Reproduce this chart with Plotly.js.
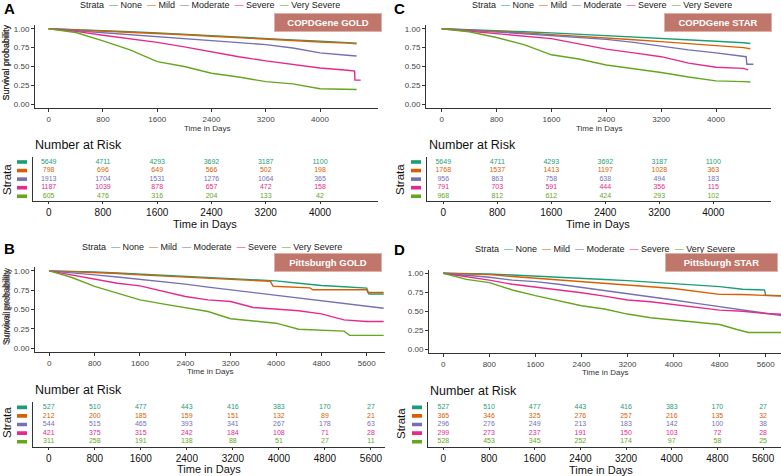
<!DOCTYPE html>
<html><head><meta charset="utf-8">
<script src="https://cdn.plot.ly/plotly-3.0.1.min.js"></script>
<style>html,body{margin:0;padding:0;background:#fff}#chart{width:781px;height:476px}</style>
</head><body><div id="chart"></div>
<script>
// ---------- data ----------
const strata = ["None", "Mild", "Moderate", "Severe", "Very Severe"];
const colors = ["#1B9E77", "#D95F02", "#7570B3", "#E7298A", "#66A61E"];

// Panel A: COPDGene GOLD
const A_t = [0,400,800,1200,1600,2000,2400,2800,3200,3600,4000,4400,4540];
const A_none = [1,.99,.975,.96,.945,.925,.907,.89,.87,.853,.836,.82,.81];
const A_mild = [1,.985,.97,.955,.94,.92,.90,.88,.86,.845,.825,.81,.80];
const A_moderate = [1,.975,.94,.915,.89,.865,.84,.815,.79,.745,.68,.65,.64];
const A_severe_t = [0,400,800,1200,1600,2000,2400,2800,3200,3600,4000,4400,4510,4515,4600];
const A_severe = [1,.965,.915,.87,.82,.76,.69,.63,.575,.525,.48,.45,.44,.32,.32];
const A_vsevere = [1,.95,.84,.72,.565,.50,.41,.36,.30,.27,.205,.20,.195];

// Panel C: COPDGene STAR
const C_t = [0,400,800,1200,1600,2000,2400,2800,3200,3600,4000,4400,4500];
const C_none = [1,.99,.975,.96,.945,.928,.91,.893,.875,.855,.835,.815,.805];
const C_mild = [1,.985,.965,.945,.925,.90,.88,.855,.83,.805,.78,.75,.735];
const C_moderate_t = [0,400,800,1200,1600,2000,2400,2800,3200,3600,4000,4400,4440,4450,4545];
const C_moderate = [1,.975,.955,.935,.91,.885,.86,.82,.765,.72,.68,.64,.63,.53,.53];
const C_severe_t = [0,400,800,1200,1600,2000,2400,2800,3200,3600,4000,4400,4470];
const C_severe = [1,.97,.94,.905,.87,.80,.73,.68,.63,.545,.49,.475,.455];
const C_vsevere = [1,.96,.885,.79,.655,.60,.52,.475,.42,.36,.31,.30,.295];

// Panel B: Pittsburgh GOLD
const B_t = [0,400,800,1200,1600,2000,2400,2800,3200,3600,4000,4400,4800,5200,5600,5900];
const B_none_t = [0,400,800,1200,1600,2000,2400,2800,3200,3600,4000,4400,4800,5200,5600,5640,5900];
const B_none = [1,.995,.987,.972,.957,.942,.927,.912,.897,.883,.87,.84,.81,.795,.776,.70,.70];
const B_mild_t = [0,400,800,1200,1600,2000,2400,2800,3200,3600,3900,3950,4400,4600,4650,5600,5620,5900];
const B_mild = [1,.99,.983,.965,.948,.933,.918,.90,.884,.87,.865,.80,.79,.78,.755,.755,.72,.72];
const B_moderate = [1,.97,.948,.92,.892,.86,.828,.79,.754,.72,.69,.65,.612,.575,.54,.517];
const B_severe = [1,.948,.897,.84,.806,.733,.668,.625,.603,.526,.504,.483,.444,.366,.345,.345];
const B_vsevere_t = [0,400,800,1200,1600,2000,2400,2800,3200,3600,4000,4400,4800,5200,5300,5900];
const B_vsevere = [1,.914,.80,.71,.625,.573,.526,.474,.38,.353,.323,.245,.237,.22,.165,.165];

// Panel D: Pittsburgh STAR
const D_t = [0,400,800,1200,1600,2000,2400,2800,3200,3600,4000,4400,4800,5200,5600,5900];
const D_none_t = [0,400,800,1200,1600,2000,2400,2800,3200,3600,4000,4400,4800,5200,5580,5600,5900];
const D_none = [1,.997,.99,.978,.965,.95,.934,.918,.903,.885,.868,.846,.824,.79,.78,.71,.705];
const D_mild = [1,.993,.982,.958,.934,.912,.89,.868,.846,.823,.80,.76,.722,.72,.705,.70];
const D_moderate = [1,.978,.947,.91,.89,.855,.815,.77,.736,.69,.648,.604,.56,.515,.47,.44];
const D_severe = [1,.956,.91,.855,.82,.78,.744,.70,.648,.626,.59,.546,.515,.50,.47,.46];
const D_vsevere_t = [0,400,800,1200,1600,2000,2400,2800,3200,3600,4000,4400,4800,5100,5300,5900];
const D_vsevere = [1,.92,.877,.78,.705,.634,.573,.53,.463,.414,.383,.352,.326,.26,.22,.22];

// Number at risk
const R_t1 = [0,800,1600,2400,3200,4000];
const R_t2 = [0,800,1600,2400,3200,4000,4800,5600];
const A_risk_none = [5649,4711,4293,3692,3187,1100];
const A_risk_mild = [798,696,649,566,502,198];
const A_risk_moderate = [1913,1704,1531,1276,1064,365];
const A_risk_severe = [1187,1039,878,657,472,158];
const A_risk_vsevere = [605,476,316,204,133,42];
const C_risk_none = [5649,4711,4293,3692,3187,1100];
const C_risk_mild = [1768,1537,1413,1197,1028,363];
const C_risk_moderate = [956,863,758,638,494,183];
const C_risk_severe = [791,703,591,444,356,115];
const C_risk_vsevere = [968,812,612,424,293,102];
const B_risk_none = [527,510,477,443,416,383,170,27];
const B_risk_mild = [212,200,185,159,151,132,89,21];
const B_risk_moderate = [544,515,465,393,341,267,178,63];
const B_risk_severe = [421,375,315,242,184,108,71,28];
const B_risk_vsevere = [311,258,191,138,88,51,27,11];
const D_risk_none = [527,510,477,443,416,383,170,27];
const D_risk_mild = [365,346,325,276,257,216,135,32];
const D_risk_moderate = [296,276,249,213,183,142,100,38];
const D_risk_severe = [299,273,237,191,150,103,72,28];
const D_risk_vsevere = [528,453,345,252,174,97,58,25];

// ---------- panel definitions ----------
const panels = [
  {letter:"A", name:"COPDGene GOLD",
   surv:[[A_t,A_none],[A_t,A_mild],[A_t,A_moderate],[A_severe_t,A_severe],[A_t,A_vsevere]],
   riskT:R_t1, risk:[A_risk_none,A_risk_mild,A_risk_moderate,A_risk_severe,A_risk_vsevere]},
  {letter:"C", name:"COPDGene STAR",
   surv:[[C_t,C_none],[C_t,C_mild],[C_moderate_t,C_moderate],[C_severe_t,C_severe],[C_t,C_vsevere]],
   riskT:R_t1, risk:[C_risk_none,C_risk_mild,C_risk_moderate,C_risk_severe,C_risk_vsevere]},
  {letter:"B", name:"Pittsburgh GOLD",
   surv:[[B_none_t,B_none],[B_mild_t,B_mild],[B_t,B_moderate],[B_t,B_severe],[B_vsevere_t,B_vsevere]],
   riskT:R_t2, risk:[B_risk_none,B_risk_mild,B_risk_moderate,B_risk_severe,B_risk_vsevere]},
  {letter:"D", name:"Pittsburgh STAR",
   surv:[[D_none_t,D_none],[D_t,D_mild],[D_t,D_moderate],[D_t,D_severe],[D_vsevere_t,D_vsevere]],
   riskT:R_t2, risk:[D_risk_none,D_risk_mild,D_risk_moderate,D_risk_severe,D_risk_vsevere]}
];

// ---------- layout geometry (pixels) ----------
const geo = [
  {sx:[35,378], sy:[25,108], sxr:[-202,4855], rx:[33,378], ry:[157,201], rxr:[-231,4855], ryr:[0.45,5.58],
   letter:[2,8], leg:[78,5], box:[328,22.7,106], nar:[33,145], strata:[7,180], rtit:[205,223.5], stit:128.5},
  {sx:[426,771], sy:[25,108], sxr:[-229,4802], rx:[427,771], ry:[157,201], rxr:[-241,4855], ryr:[0.45,5.58],
   letter:[392,8], leg:[470,5], box:[718,22.5,106], nar:[427,145], strata:[400,180], rtit:[598,223.5], stit:128.5},
  {sx:[35,385], sy:[267,352], sxr:[-252,5923], rx:[33,385], ry:[402,446.5], rxr:[-273,5844], ryr:[0.44,5.62],
   letter:[2,248], leg:[80,247], box:[328,262,106], nar:[33,390], strata:[7,423], rtit:[209,469], stit:371.5},
  {sx:[429,781], sy:[269.5,353], sxr:[-248,5866], rx:[428,781], ry:[402,446.5], rxr:[-269,5914], ryr:[0.44,5.62],
   letter:[392,249], leg:[473,249], box:[721,262,111], nar:[428,391], strata:[401,424], rtit:[601,469.5], stit:372.5}
];

const W = 781, H = 476;
const FONT = "Liberation Sans, Arial, sans-serif";
const px = v => v / W;
const py = v => 1 - v / H;
const xd = a => [a[0] / W, a[1] / W];
const yd = a => [1 - a[1] / H, 1 - a[0] / H];

const traces = [];
const layout = {
  width: W, height: H, margin: {l:0, r:0, t:0, b:0},
  paper_bgcolor: "#fff", plot_bgcolor: "#fff", showlegend: false,
  font: {family: FONT, color: "#222"},
  annotations: [], shapes: []
};

const axBase = {showline:true, linecolor:"#333", linewidth:1, ticks:"outside", ticklen:3,
  tickcolor:"#333", tickwidth:1, showgrid:false, zeroline:false, fixedrange:true};

panels.forEach((p, i) => {
  const g = geo[i];
  const sN = 2 * i + 1, rN = 2 * i + 2;
  const sx = "x" + sN, sy = "y" + sN, rx = "x" + rN, ry = "y" + rN;
  const ticks = p.riskT;

  // survival curves
  p.surv.forEach((s, k) => {
    traces.push({type:"scatter", mode:"lines", x:s[0], y:s[1], xaxis:sx, yaxis:sy,
      line:{color:colors[k], width:1.4}, name:strata[k], hoverinfo:"skip"});
  });
  // risk table numbers
  p.risk.forEach((r, k) => {
    traces.push({type:"scatter", mode:"text", x:ticks, y:ticks.map(() => 5 - k),
      text:r.map(String), xaxis:rx, yaxis:ry, cliponaxis:false,
      textfont:{family:FONT, size:7, color:colors[k]}, hoverinfo:"skip"});
    // strata colour key on the risk-table y axis
    layout.shapes.push({type:"rect", xref:"paper", yref:ry,
      x0:px(g.rx[0] - 16), x1:px(g.rx[0] - 6), y0:5 - k - 0.21, y1:5 - k + 0.21,
      fillcolor:colors[k], line:{width:0}});
  });

  const kx = sN === 1 ? "xaxis" : "xaxis" + sN;
  const ky = sN === 1 ? "yaxis" : "yaxis" + sN;
  layout[kx] = Object.assign({}, axBase, {domain:xd(g.sx), anchor:sy, range:g.sxr,
    tickvals:ticks, ticktext:ticks.map(String), tickfont:{family:FONT, size:8, color:"#444"}});
  layout[ky] = Object.assign({}, axBase, {domain:yd(g.sy), anchor:sx, range:[-0.05,1.05],
    tickvals:[0,.25,.5,.75,1], tickformat:".2f", tickfont:{family:FONT, size:8, color:"#444"}});
  layout["xaxis" + rN] = Object.assign({}, axBase, {domain:xd(g.rx), anchor:ry, range:g.rxr, ticklen:2,
    tickvals:ticks, ticktext:ticks.map(String), tickfont:{family:FONT, size:10, color:"#111"}});
  layout["yaxis" + rN] = Object.assign({}, axBase, {domain:yd(g.ry), anchor:rx, range:g.ryr,
    ticks:"", showticklabels:false});

  const ann = (o) => layout.annotations.push(Object.assign({xref:"paper", yref:"paper", showarrow:false}, o));
  // panel letter
  ann({x:px(g.letter[0]), y:py(g.letter[1]), xanchor:"left", yanchor:"middle",
    text:"<b>" + p.letter + "</b>", font:{family:FONT, size:15, color:"#000"}});
  // legend
  let leg = "Strata";
  strata.forEach((s, k) => {
    leg += '&nbsp;&nbsp;<span style="color:' + colors[k] + '">—</span>&nbsp;' + s;
  });
  ann({x:px(g.leg[0]), y:py(g.leg[1]), xanchor:"left", yanchor:"middle", text:leg,
    font:{family:FONT, size:9, color:"#222"}});
  // dataset box
  ann({x:px(g.box[0]), y:py(g.box[1]), xanchor:"center", yanchor:"middle",
    text:"<b>" + p.name + "</b>", width:g.box[2], height:17, bgcolor:"#C0766B",
    bordercolor:"#DDB0A8", borderwidth:1, borderpad:0,
    font:{family:FONT, size:9.5, color:"#fff"}});
  // survival axis titles
  ann({x:px(6), y:py((g.sy[0] + g.sy[1]) / 2 - 4), textangle:-90, xanchor:"center", yanchor:"middle",
    text:"Survival probability", font:{family:FONT, size:9, color:"#333"}});
  ann({x:px((g.sx[0] + g.sx[1]) / 2), y:py(g.stit), xanchor:"center", yanchor:"middle",
    text:"Time in Days", font:{family:FONT, size:8, color:"#333"}});
  // risk table titles
  ann({x:px(g.nar[0]), y:py(g.nar[1]), xanchor:"left", yanchor:"middle",
    text:"Number at Risk", font:{family:FONT, size:12.5, color:"#111"}});
  ann({x:px(g.strata[0]), y:py(g.strata[1]), textangle:-90, xanchor:"center", yanchor:"middle",
    text:"Strata", font:{family:FONT, size:11.5, color:"#111"}});
  ann({x:px(g.rtit[0]), y:py(g.rtit[1]), xanchor:"center", yanchor:"middle",
    text:"Time in Days", font:{family:FONT, size:11, color:"#111"}});
});

Plotly.newPlot("chart", traces, layout, {staticPlot:true, displayModeBar:false});
</script>
</body></html>
